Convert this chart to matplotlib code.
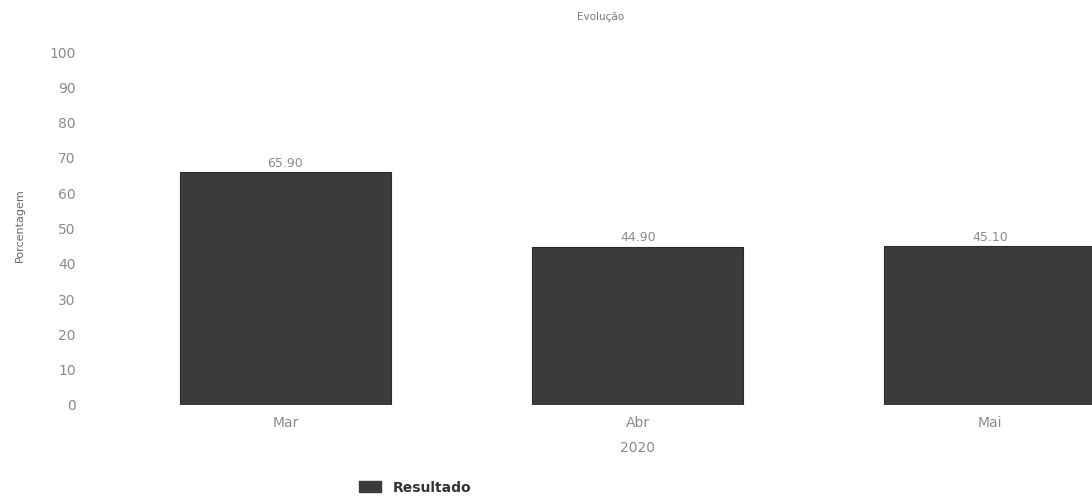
import matplotlib
matplotlib.use("Agg")
import matplotlib.pyplot as plt
from matplotlib.patches import Patch

months = ["Mar", "Abr", "Mai"]
resultado = [65.90, 44.90, 45.10]
yticks = [0, 10, 20, 30, 40, 50, 60, 70, 80, 90, 100]

bar_color = "#3b3b3b"
text_grey = "#8a8a8a"

fig = plt.figure(figsize=(10.92, 5), dpi=100)
# axes runs past the right edge, like the cropped scan
ax = fig.add_axes([0.10, 0.19, 0.968, 0.706])

x = range(len(months))
bars = ax.bar(x, resultado, width=0.6, color=bar_color, edgecolor="#2a2a2a", linewidth=0.8)

for b, v in zip(bars, resultado):
    ax.text(b.get_x() + b.get_width() / 2, v + 0.6, f"{v:.2f}",
            ha="center", va="bottom", fontsize=9, color=text_grey)

ax.set_xlim(-0.5, 2.5)
ax.set_ylim(0, 100)
ax.set_yticks(yticks)
ax.set_xticks(list(x))
ax.set_xticklabels(months)
ax.tick_params(axis="both", length=0, colors=text_grey, labelsize=10)
ax.tick_params(axis="y", pad=24)
ax.tick_params(axis="x", pad=8)
for s in ax.spines.values():
    s.set_visible(False)

ax.set_xlabel("2020", fontsize=10, color=text_grey, labelpad=8)
fig.text(0.55, 0.965, "Evolução", ha="center", va="center", fontsize=7.5, color="#777777")
fig.text(0.018, 0.55, "Porcentagem", rotation=90, ha="center", va="center",
         fontsize=8, color="#666666")

handles = [Patch(facecolor=bar_color, edgecolor=bar_color)]
fig.legend(handles, ["Resultado"], loc="center", bbox_to_anchor=(0.38, 0.025),
           frameon=False, prop={"weight": "bold", "size": 10},
           handlelength=1.6, handleheight=0.9, labelcolor="#333333")

fig.savefig("out.png", dpi=100)
